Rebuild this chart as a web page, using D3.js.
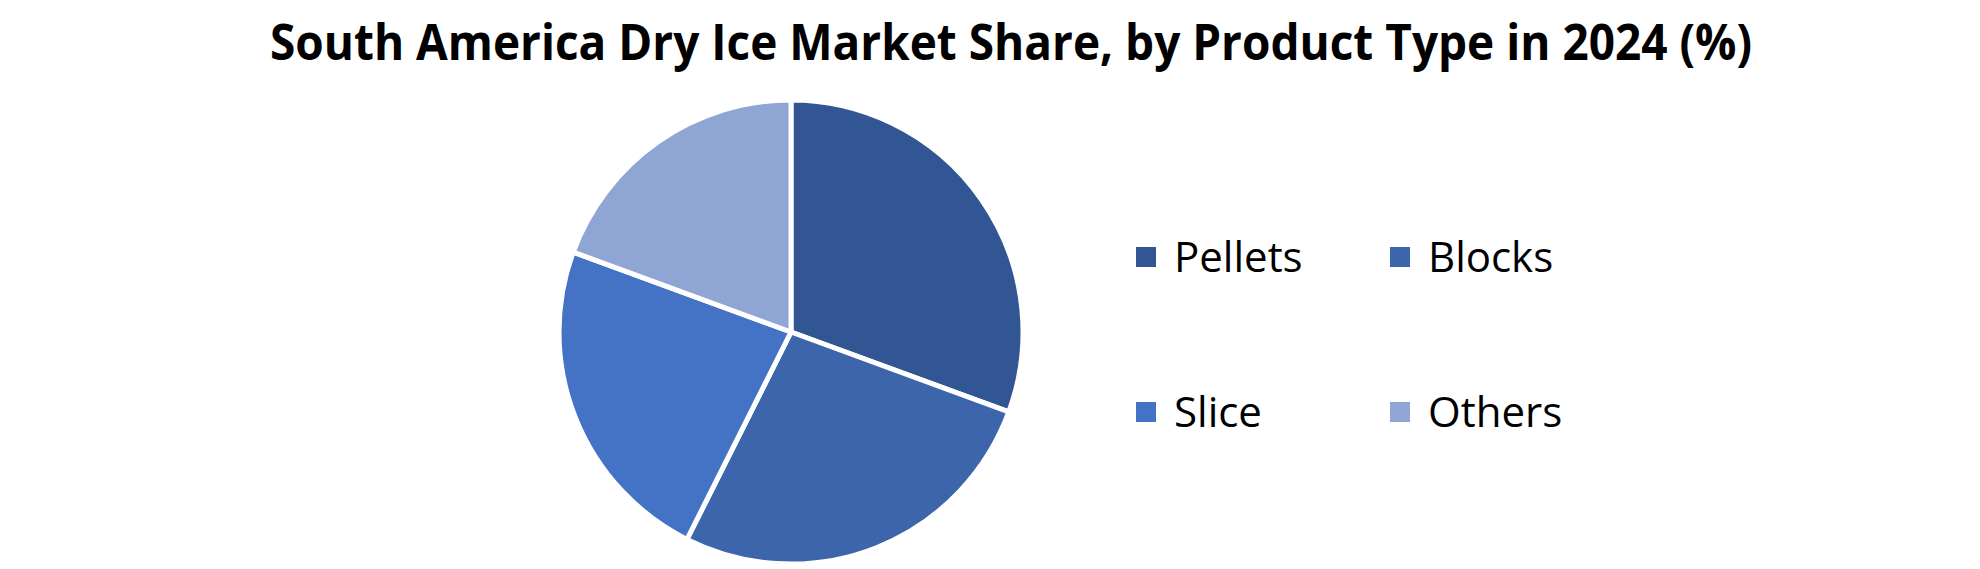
<!DOCTYPE html>
<html>
<head>
<meta charset="utf-8">
<script src="https://cdn.jsdelivr.net/npm/d3@7"></script>
<style>
  html, body { margin: 0; padding: 0; background: #fff; }
  svg { display: block; }
</style>
</head>
<body>
<svg id="chart"></svg>
<script>
// values (percent)
const categories = ['Pellets', 'Blocks', 'Slice', 'Others'];
const shares = [30.6, 26.8, 23.2, 19.4];
const colors = ['#325593', '#3d65ab', '#4472c4', '#8fa5d4'];
const title = 'South America Dry Ice Market Share, by Product Type in 2024 (%)';

const W = 1980, H = 569;
const svg = d3.select('#chart').attr('width', W).attr('height', H);
const font = '"Open Sans", "Noto Sans", sans-serif';

// title, squeezed to the width it has in the reference
svg.append('text')
   .attr('x', 1011)
   .attr('y', 60)
   .attr('text-anchor', 'middle')
   .style('font-family', font)
   .style('font-weight', 700)
   .style('font-size', '50px')
   .attr('textLength', 1482)
   .attr('lengthAdjust', 'spacingAndGlyphs')
   .text(title);

// pie
const cx = 791, cy = 332, r = 232;
const pie = d3.pie().sort(null).value(d => d.v);
const arc = d3.arc().innerRadius(0).outerRadius(r);
const data = categories.map((c, i) => ({ name: c, v: shares[i] }));
const color = d3.scaleOrdinal().domain(categories).range(colors);

const g = svg.append('g').attr('transform', `translate(${cx},${cy})`);
g.selectAll('path')
 .data(pie(data))
 .join('path')
 .attr('d', arc)
 .attr('fill', d => color(d.data.name))
 .attr('stroke', '#fff')
 .attr('stroke-width', 5)
 .attr('stroke-linejoin', 'round');

// legend, 2 x 2
const legX = d3.scaleOrdinal().domain([0, 1]).range([1136, 1390]);
const legY = d3.scaleOrdinal().domain([0, 1]).range([247, 402]);
const leg = svg.append('g');
categories.forEach((c, i) => {
  const col = i % 2, row = Math.floor(i / 2);
  const x = legX(col), y = legY(row);
  leg.append('rect')
     .attr('x', x).attr('y', y)
     .attr('width', 20).attr('height', 20)
     .attr('fill', color(c));
  leg.append('text')
     .attr('x', x + 38)
     .attr('y', y + 25)
     .style('font-family', font)
     .style('font-size', '42px')
     .attr('fill', '#000')
     .text(c);
});
</script>
</body>
</html>
